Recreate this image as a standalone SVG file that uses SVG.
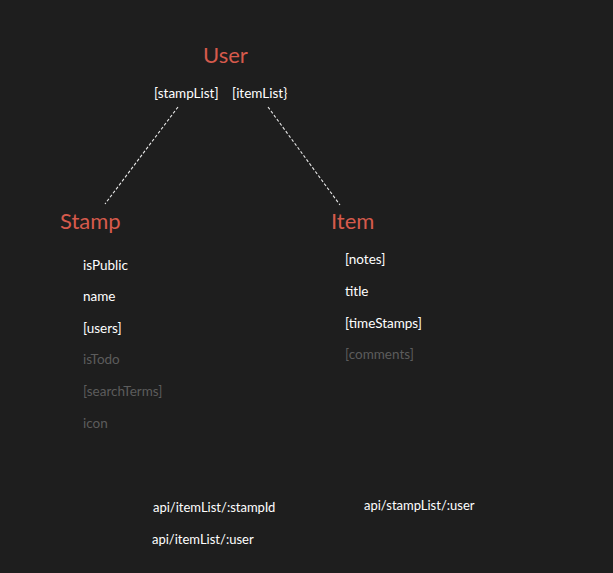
<svg xmlns="http://www.w3.org/2000/svg" width="613" height="573" viewBox="0 0 613 573">
<style>
.t{font-family:Lato,"Noto Sans","Liberation Sans",sans-serif;}
.title{font-size:22px;fill:#d65a4c;}
.sub{font-size:13.5px;fill:#ffffff;}
.dim{font-size:13.5px;fill:#5c5c5c;}
.api{font-size:13px;fill:#ffffff;}
.conn{stroke:#e8e8e8;stroke-width:1.1;stroke-dasharray:3,2;fill:none;}
</style>
<rect width="613" height="573" fill="#1e1e1e"/>
<g id="connectors">
<line class="conn" x1="178" y1="107" x2="105" y2="204"/>
<line class="conn" x1="268" y1="107" x2="340" y2="205"/>
</g>
<g id="user" class="t">
<text class="title" x="203" y="63">User</text>
<text class="sub" x="154" y="98">[stampList]</text>
<text class="sub" x="232" y="98">[itemList}</text>
</g>
<g id="stamp" class="t">
<text class="title" x="60" y="229">Stamp</text>
<text class="sub" x="83" y="270">isPublic</text>
<text class="sub" x="83" y="301">name</text>
<text class="sub" x="83" y="333">[users]</text>
<text class="dim" x="83" y="364">isTodo</text>
<text class="dim" x="83" y="396">[searchTerms]</text>
<text class="dim" x="83" y="428">icon</text>
</g>
<g id="item" class="t">
<text class="title" x="331" y="229">Item</text>
<text class="sub" x="345" y="264">[notes]</text>
<text class="sub" x="345" y="296">title</text>
<text class="sub" x="345" y="328">[timeStamps]</text>
<text class="dim" x="345" y="359">[comments]</text>
</g>
<g id="api" class="t">
<text class="api" x="153" y="512">api/itemList/:stampId</text>
<text class="api" x="152" y="544">api/itemList/:user</text>
<text class="api" x="364" y="510">api/stampList/:user</text>
</g>
</svg>
